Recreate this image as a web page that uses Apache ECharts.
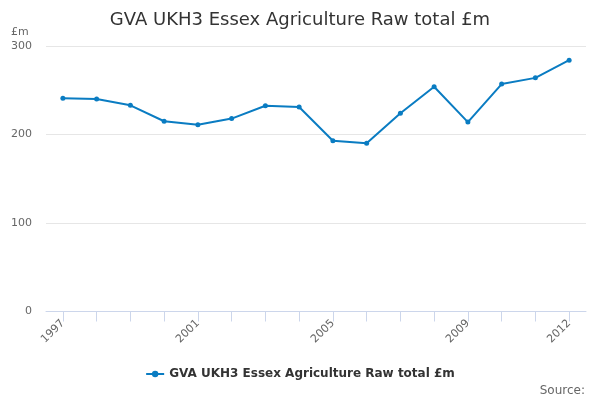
<!DOCTYPE html>
<html>
<head>
<meta charset="utf-8">
<script src="https://cdn.jsdelivr.net/npm/echarts@6/dist/echarts.min.js"></script>
<style>
  html, body { margin: 0; padding: 0; background: #fff; }
  #main { width: 600px; height: 400px; }
</style>
</head>
<body>
<div id="main"></div>
<script>
var years = ['1997','1998','1999','2000','2001','2002','2003','2004','2005','2006','2007','2008','2009','2010','2011','2012'];
var gvaValues = [241, 240, 233, 215, 211, 218, 232.5, 231, 193, 190, 224, 254, 214, 257, 264, 284];
var yTicks = [0, 100, 200, 300];
var seriesName = 'GVA UKH3 Essex Agriculture Raw total £m';

var myChart = echarts.init(document.getElementById('main'));

var option = {
    animation: false,
    textStyle: { fontFamily: 'DejaVu Sans' },
    title: [
        {
            text: seriesName,
            left: 'center',
            top: 6,
            textStyle: { fontSize: 18, fontWeight: 'normal', color: '#333333', fontFamily: 'DejaVu Sans' }
        },
        {
            text: '£m',
            left: 6,
            top: 22,
            textStyle: { fontSize: 11, fontWeight: 'normal', color: '#666666', fontFamily: 'DejaVu Sans' }
        },
        {
            text: 'Source:',
            right: 10,
            bottom: -2,
            textStyle: { fontSize: 12, fontWeight: 'normal', color: '#666666', fontFamily: 'DejaVu Sans' }
        }
    ],
    legend: {
        data: [seriesName],
        bottom: 15,
        left: 'center',
        itemWidth: 18,
        itemHeight: 8,
        textStyle: { fontSize: 12, fontWeight: 'bold', color: '#333333', fontFamily: 'DejaVu Sans' }
    },
    grid: {
        left: 46,
        right: 14,
        top: 46,
        bottom: 88.5
    },
    xAxis: {
        type: 'category',
        data: years,
        boundaryGap: true,
        axisLine: { show: true, lineStyle: { color: '#ccd6eb', width: 1 } },
        axisTick: {
            show: true,
            alignWithLabel: true,
            interval: 0,
            length: 10,
            lineStyle: { color: '#ccd6eb', width: 1 }
        },
        axisLabel: {
            rotate: 45,
            color: '#666666',
            fontSize: 11,
            margin: 10,
            interval: function (index) {
                return index % 4 === 0 || index === years.length - 1;
            }
        },
        splitLine: { show: false }
    },
    yAxis: {
        type: 'value',
        min: yTicks[0],
        max: yTicks[yTicks.length - 1],
        interval: 100,
        axisLine: { show: false },
        axisTick: { show: false },
        axisLabel: { color: '#666666', fontSize: 11, margin: 14 },
        splitLine: { lineStyle: { color: '#e6e6e6' } }
    },
    series: [
        {
            name: seriesName,
            type: 'line',
            data: gvaValues,
            symbol: 'circle',
            symbolSize: 5,
            lineStyle: { color: '#0a7cc2', width: 2 },
            itemStyle: { color: '#0a7cc2' }
        }
    ]
};

myChart.setOption(option);
</script>
</body>
</html>
